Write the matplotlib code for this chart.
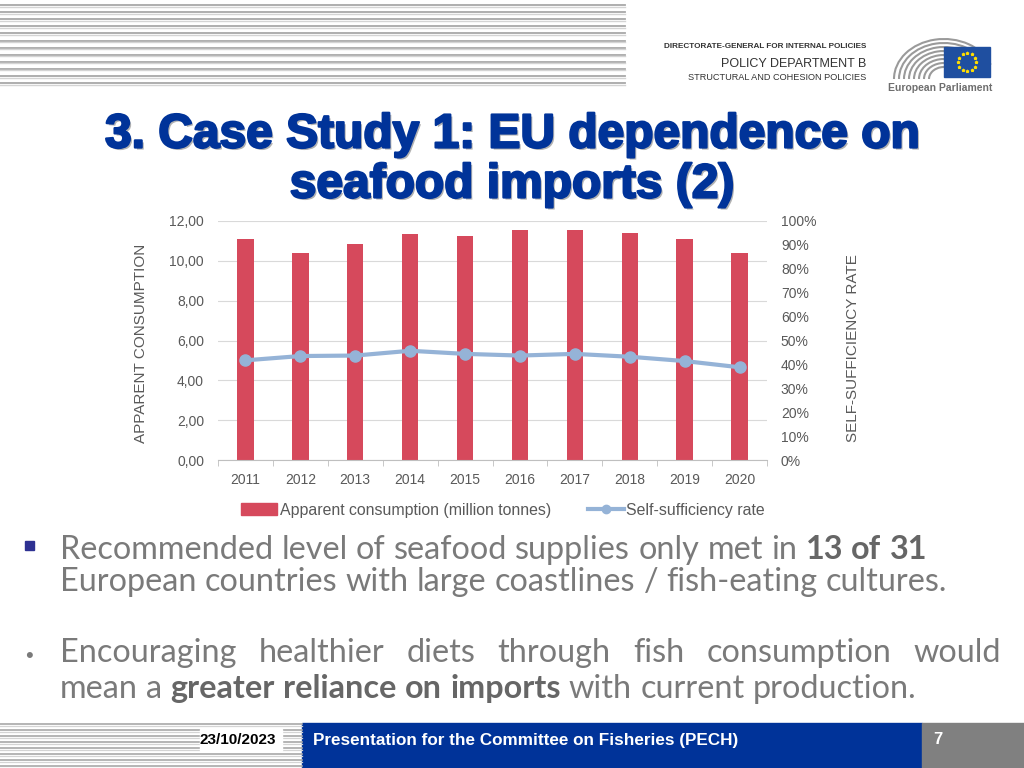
import matplotlib
matplotlib.use("Agg")
import matplotlib.pyplot as plt
import matplotlib.patheffects as pe
from matplotlib.patches import Rectangle, Arc
from matplotlib.lines import Line2D
from matplotlib.ticker import FixedLocator, FuncFormatter
import numpy as np

plt.rcParams["font.family"] = ["Liberation Sans", "DejaVu Sans"]

# data
years = ["2011", "2012", "2013", "2014", "2015", "2016", "2017", "2018", "2019", "2020"]
consumption = [11.10, 10.41, 10.85, 11.33, 11.23, 11.53, 11.56, 11.40, 11.11, 10.41]
self_sufficiency = [0.417, 0.435, 0.437, 0.457, 0.444, 0.437, 0.444, 0.432, 0.414, 0.388]

title_lines = ["3. Case Study 1: EU dependence on", "seafood imports (2)"]
bullet1 = [
    [("Recommended level of seafood supplies only met in", False), ("13 of 31", True)],
    [("European countries with large coastlines / fish-eating cultures.", False)],
]
bullet2 = [
    [("Encouraging healthier diets through fish consumption would", False)],
    [("mean a", False), ("greater reliance on imports", True), ("with current production.", False)],
]
footer_date = "23/10/2023"
footer_text = "Presentation for the Committee on Fisheries (PECH)"
page_no = "7"

BAR_RED = "#D6495C"
LINE_BLUE = "#95B3D7"
TXT_GRAY = "#595959"
EU_BLUE = "#003399"

fig = plt.figure(figsize=(10.24, 7.68), dpi=100)

# overlay in pixel coordinates for the slide furniture
deco = fig.add_axes([0, 0, 1, 1])
deco.set_xlim(0, 1024)
deco.set_ylim(768, 0)
deco.axis("off")

# header stripes
for k in range(12):
    y = 5 + 7.1 * k
    deco.plot([0, 625], [y, y], color="#A8A8A8", lw=1.3)
    deco.plot([0, 625], [y + 1.5, y + 1.5], color="#D4D4D4", lw=1.0)

# department text
deco.text(866, 47, "DIRECTORATE-GENERAL FOR INTERNAL POLICIES", ha="right", va="center",
          fontsize=5.9, color="#333333", weight="bold")
deco.text(866, 64, "POLICY DEPARTMENT B", ha="right", va="center",
          fontsize=9, color="#333333")
deco.text(866, 77, "STRUCTURAL AND COHESION POLICIES", ha="right", va="center",
          fontsize=6.6, color="#333333")

# European Parliament logo
for r in range(8):
    w = 100 - r * 10
    h = 80 - r * 8
    deco.add_patch(Arc((944, 79), w, h, theta1=180, theta2=343, color="#9A9A9A", lw=1.5))
deco.add_patch(Rectangle((944, 47), 46, 30, color="#1F4FA0", zorder=4))
ang = np.linspace(0, 2 * np.pi, 13)[:-1]
deco.scatter(967 + 9 * np.cos(ang), 62 + 9 * np.sin(ang), s=3, marker="*", color="#FFDD00", zorder=5)
deco.text(940, 88, "European Parliament", ha="center", va="center", fontsize=7.5,
          color="#6E6E6E", weight="bold", zorder=5)

# title
title_fx = [pe.withSimplePatchShadow(offset=(1.5, -1.5), shadow_rgbFace="#7F7F7F", alpha=0.6),
            pe.withStroke(linewidth=1.6, foreground=EU_BLUE)]
for line, y in zip(title_lines, [135, 185]):
    deco.text(512, y, line, ha="center", va="center", fontsize=34.5, weight="bold",
              color=EU_BLUE, path_effects=title_fx)

# chart
ax = fig.add_axes([218 / 1024, 1 - 460 / 768, 549 / 1024, 239 / 768])
x = np.arange(len(years))
ax.bar(x, consumption, width=0.3, color=BAR_RED, zorder=2)
ax.set_xlim(-0.5, len(years) - 0.5)
ax.set_ylim(0, 12)
ax.yaxis.set_major_locator(FixedLocator([0, 2, 4, 6, 8, 10, 12]))
ax.yaxis.set_major_formatter(FuncFormatter(lambda v, p: f"{v:.2f}".replace(".", ",")))
ax.grid(axis="y", color="#D9D9D9", lw=0.8, zorder=0)
for s in ["top", "right", "left"]:
    ax.spines[s].set_visible(False)
ax.spines["bottom"].set_color("#BFBFBF")
ax.set_xticks(x)
ax.set_xticklabels(years)
ax.set_xticks(np.arange(-0.5, len(years)), minor=True)
ax.tick_params(axis="x", which="major", length=0, pad=9, labelsize=10, labelcolor=TXT_GRAY)
ax.tick_params(axis="x", which="minor", length=4, color="#BFBFBF")
ax.tick_params(axis="y", length=0, pad=10, labelsize=10, labelcolor=TXT_GRAY)
ax.set_ylabel("APPARENT CONSUMPTION", fontsize=11, color=TXT_GRAY)
ax.yaxis.set_label_coords(-0.128, 0.49)

ax2 = ax.twinx()
ax2.plot(x, self_sufficiency, color=LINE_BLUE, lw=3, marker="o", markersize=8, zorder=3)
ax2.set_ylim(0, 1)
ax2.yaxis.set_major_locator(FixedLocator(np.arange(0, 1.01, 0.1)))
ax2.yaxis.set_major_formatter(FuncFormatter(lambda v, p: f"{v * 100:.0f}%"))
ax2.tick_params(axis="y", length=0, pad=10, labelsize=10, labelcolor=TXT_GRAY)
for s in ax2.spines.values():
    s.set_visible(False)
ax2.set_ylabel("SELF-SUFFICIENCY RATE", fontsize=11, color=TXT_GRAY)
ax2.yaxis.set_label_coords(1.144, 0.47)

handles = [Rectangle((0, 0), 1, 1, color=BAR_RED),
           Line2D([], [], color=LINE_BLUE, lw=3, marker="o", markersize=6)]
fig.legend(handles, ["Apparent consumption (million tonnes)", "Self-sufficiency rate"],
           loc="center", bbox_to_anchor=(503 / 1024, 1 - 510 / 768), ncol=2, frameon=False,
           fontsize=11.4, labelcolor=TXT_GRAY, handlelength=2.3, handletextpad=0.15,
           columnspacing=2.3)

# bullet text, placed word by word so bold runs and justification work
renderer = fig.canvas.get_renderer()
BODY = ["Lato", "DejaVu Sans"]
BODY_SIZE = 23.3
BODY_COLOR = "#7A7A7A"


def text_width(s, bold):
    t = deco.text(0, 0, s, fontsize=BODY_SIZE, family=BODY, weight="bold" if bold else "normal")
    w = t.get_window_extent(renderer).width
    t.remove()
    return w


space = text_width("a a", False) - text_width("aa", False)


def draw_line(runs, x0, y, justify_to=None):
    words = []
    for s, bold in runs:
        for w in s.split(" "):
            words.append((w, bold))
    widths = [text_width(w, b) for w, b in words]
    gap = space
    if justify_to is not None:
        gap = (justify_to - x0 - sum(widths)) / (len(words) - 1)
    xx = x0
    for (w, b), wd in zip(words, widths):
        deco.text(xx, y, w, fontsize=BODY_SIZE, family=BODY, weight="bold" if b else "normal",
                  color=BODY_COLOR if not b else "#666666", va="baseline", ha="left")
        xx += wd + gap


deco.add_patch(Rectangle((25, 541), 9, 9, color="#2E3192"))
draw_line(bullet1[0], 60, 559)
draw_line(bullet1[1], 60, 591)
deco.text(29, 662, "\u2022", fontsize=16, color=BODY_COLOR, ha="center", va="baseline")
draw_line(bullet2[0], 60, 662, justify_to=1001)
draw_line(bullet2[1], 60, 698)

# footer
for k in range(8):
    y = 724 + 6 * k
    deco.plot([0, 302], [y, y], color="#A8A8A8", lw=1.2)
    deco.plot([0, 302], [y + 1.5, y + 1.5], color="#D4D4D4", lw=0.9)
deco.add_patch(Rectangle((200, 729), 82, 22, color="white", zorder=2))
deco.text(276, 740, footer_date, ha="right", va="center", fontsize=11, weight="bold",
          color="black", zorder=3)
deco.add_patch(Rectangle((302, 723), 620, 45, color=EU_BLUE))
deco.text(313, 740, footer_text, ha="left", va="center", fontsize=12.3, weight="bold",
          color="white")
deco.add_patch(Rectangle((922, 723), 102, 45, color="#808080"))
deco.text(933, 739, page_no, ha="left", va="center", fontsize=12, weight="bold",
          color="white")

fig.savefig("out.png", dpi=100)
